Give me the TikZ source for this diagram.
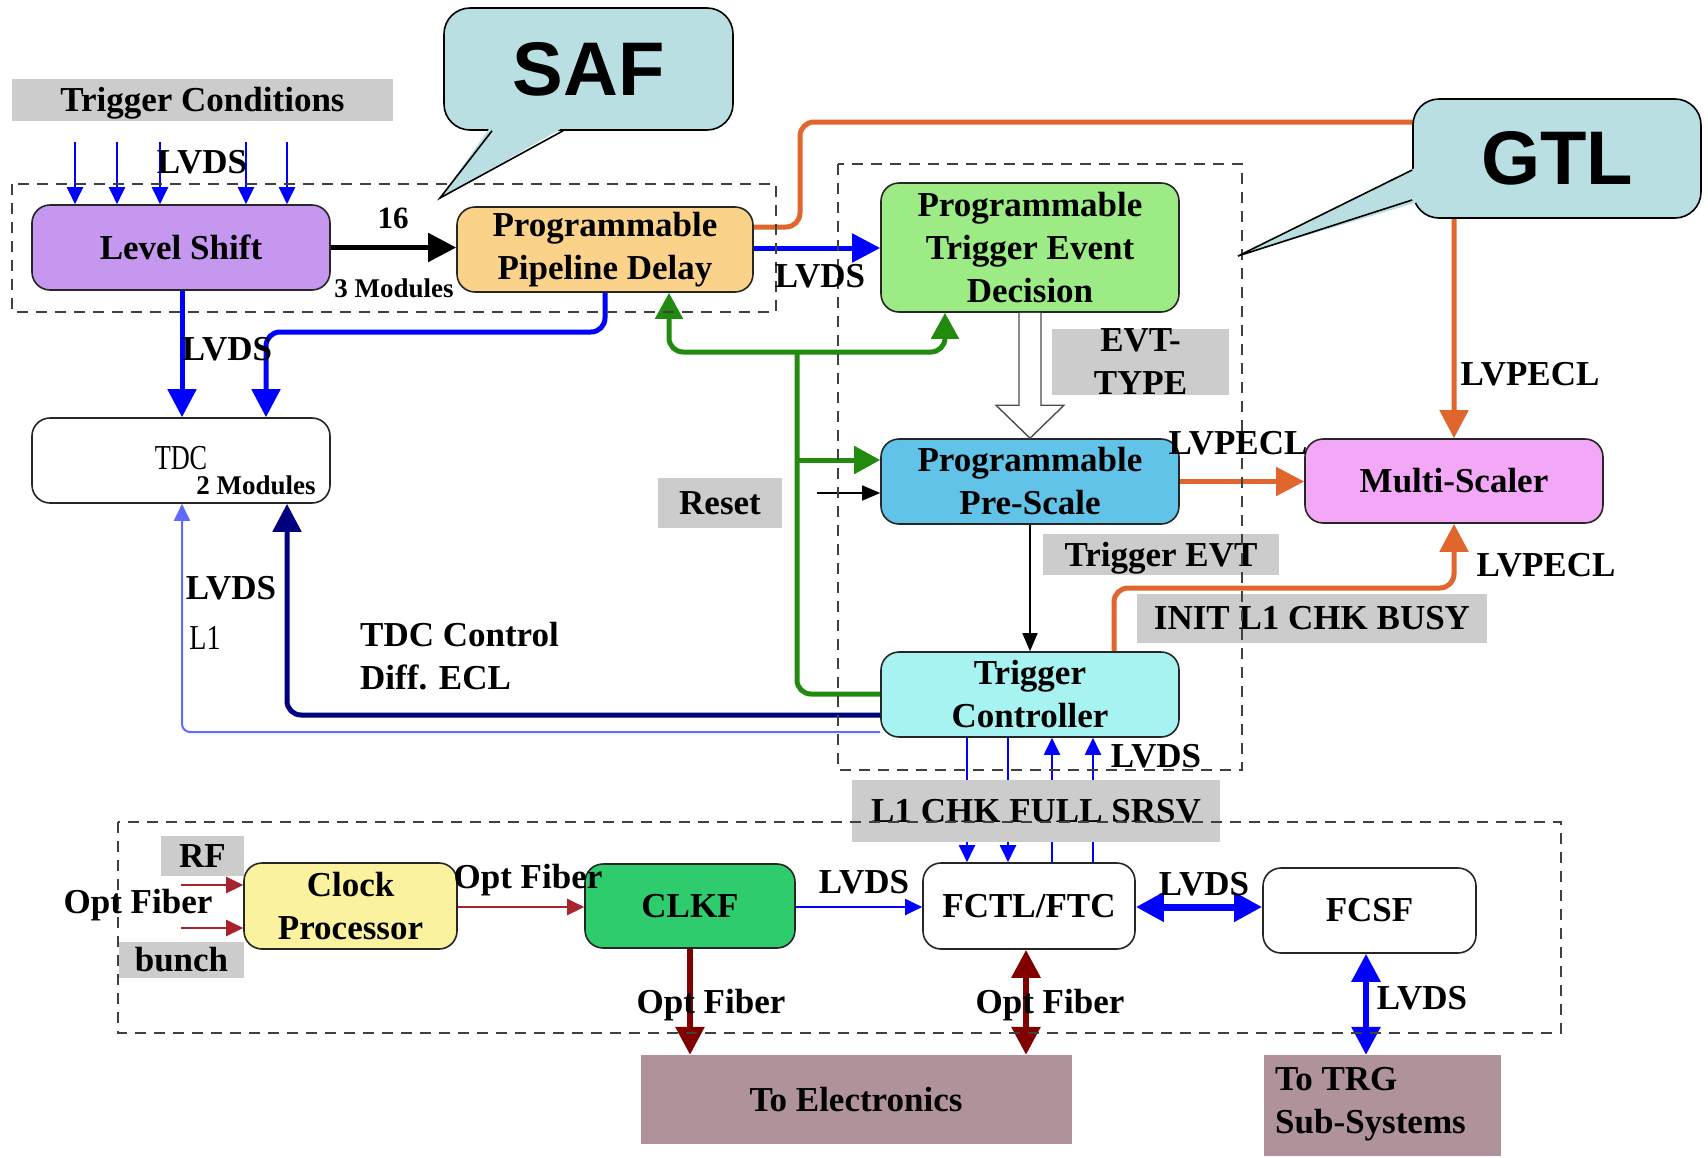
\documentclass[tikz,border=0pt]{standalone}
\usepackage{fontspec}
\setmainfont{Liberation Serif}
\newfontfamily\calloutfont{Liberation Sans}
\usetikzlibrary{arrows.meta}

% fills
\definecolor{lsfill}{HTML}{C597EE}
\definecolor{ppdfill}{HTML}{FAD28A}
\definecolor{ptedfill}{HTML}{9DEB85}
\definecolor{psfill}{HTML}{62C3E8}
\definecolor{msfill}{HTML}{F2A8F6}
\definecolor{tcfill}{HTML}{A7F3F2}
\definecolor{cpfill}{HTML}{FAF29F}
\definecolor{clkffill}{HTML}{2ECC6C}
\definecolor{outfill}{HTML}{B0929B}
\definecolor{tagfill}{HTML}{CCCCCC}
\definecolor{bubble}{HTML}{B9DFE2}
% wires
\definecolor{wireorange}{HTML}{E0662E}
\definecolor{wireblue}{HTML}{0000FF}
\definecolor{wirelight}{HTML}{5F6BFF}
\definecolor{wirenavy}{HTML}{00007F}
\definecolor{wiregreen}{HTML}{238A10}
\definecolor{wirered}{HTML}{800000}
\definecolor{wirebrick}{HTML}{A8232D}

\newcommand\boxfont{\fontsize{35pt}{43pt}\selectfont\bfseries}
\newcommand\smallboldfont{\fontsize{27pt}{30pt}\selectfont\bfseries}
\newcommand\bubblefont{\calloutfont\bfseries\fontsize{76pt}{80pt}\selectfont}

\tikzset{
  blk/.style={draw=black!85, line width=1.6pt, rounded corners=18pt, align=center,
    inner sep=0pt, font=\boxfont},
  graytag/.style={fill=tagfill, inner sep=0pt, font=\boxfont, text height=23pt, text depth=0pt},
  lbl/.style={inner sep=0pt, font=\boxfont, text height=23pt, text depth=0pt},
  dashframe/.style={draw=black!75, line width=1.8pt, dash pattern=on 11pt off 8pt},
  thickwire/.style={line width=5pt},
  thinwire/.style={line width=2pt},
  bigtip/.tip={Triangle[length=28pt,width=28pt]},
  greentip/.tip={Triangle[length=26pt,width=27pt]},
  smalltip/.tip={Triangle[length=17pt,width=16pt]},
  bubblebox/.style={fill=bubble, draw=black, line width=1.6pt, rounded corners=26pt,
    inner sep=0pt, font=\bubblefont},
}

\begin{document}
\begin{tikzpicture}[x=1pt,y=-1pt]
\useasboundingbox (0,0) rectangle (1708,1157);
\fill[white] (0,0) rectangle (1708,1157);

% ---------- blocks ----------
\node[blk, fill=lsfill,   minimum width=298pt, minimum height=85pt]  (LS)   at (181,247.5)  {Level Shift};
\node[blk, fill=ppdfill,  minimum width=296pt, minimum height=85pt]  (PPD)  at (605,249.5)  {Programmable\\Pipeline Delay};
\node[blk, fill=ptedfill, minimum width=298pt, minimum height=129pt] (PTED) at (1030,247.5) {Programmable\\Trigger Event\\Decision};
\node[blk, fill=psfill,   minimum width=298pt, minimum height=85pt]  (PS)   at (1030,481.5) {Programmable\\Pre-Scale};
\node[blk, fill=msfill,   minimum width=298pt, minimum height=84pt]  (MS)   at (1454,481)   {Multi-Scaler};
\node[blk, fill=tcfill,   minimum width=298pt, minimum height=85pt]  (TC)   at (1030,694.5) {Trigger\\Controller};
\node[blk, fill=white,    minimum width=298pt, minimum height=85pt]  (TDC)  at (181,460.5)  {};
\node[blk, fill=cpfill,   minimum width=213pt, minimum height=86pt]  (CP)   at (350.5,906)  {Clock\\Processor};
\node[blk, fill=clkffill, minimum width=210pt, minimum height=84pt]  (CLKF) at (690,906)    {CLKF};
\node[blk, fill=white,    minimum width=212pt, minimum height=86pt]  (FCTL) at (1029,906)   {FCTL/FTC};
\node[blk, fill=white,    minimum width=213pt, minimum height=85pt]  (FCSF) at (1369.5,910.5) {FCSF};
\node[fill=outfill, inner sep=0pt, minimum width=431pt, minimum height=89pt, font=\boxfont] (TE) at (856,1099.5) {To Electronics};
\node[fill=outfill, inner sep=0pt, minimum width=237pt, minimum height=101pt] (TRG) at (1382.5,1105.5) {};

\node[font=\fontsize{35pt}{40pt}\selectfont, inner sep=0pt, text height=23pt, text depth=0pt] (tdct) at (181,458) {\scalebox{0.75}[1]{TDC}};
\node[font=\smallboldfont, inner sep=0pt] (tdcm) at (256,485) {2 Modules};
\node[font=\boxfont, align=left, anchor=west, inner sep=0pt] (trgt) at (1275,1104) {To TRG\\Sub-Systems};

% ---------- connectors ----------
% trigger condition inputs
\foreach \x [count=\i] in {75,117,160,246,287} {
  \coordinate (in\i) at (\x,142);
  \draw[thinwire, wireblue, -{smalltip}] (in\i) -- (LS.north -| in\i);
}
\draw[thickwire, black, -{bigtip}] (LS.east) -- (PPD.west |- LS.east);
\draw[thickwire, wireblue, -{bigtip}] (PPD.east |- 0,248) -- (PTED.west |- 0,248);

% LVPECL wires
\draw[thickwire, wireorange, rounded corners=14pt, -{bigtip}]
  (PPD.east |- 0,227) -- (800,227) -- (800,122) -- (MS.north |- 0,122) -- (MS.north);
\draw[thickwire, wireorange, -{bigtip}] (PS.east) -- (MS.west |- PS.east);
\draw[thickwire, wireorange, rounded corners=14pt, -{bigtip}]
  (TC.north -| 1114,0) -- (1114,588) -- (MS.south |- 0,588) -- (MS.south);

% event decision to pre-scale (hollow arrow)
\draw[draw=black!70, fill=white, line width=1.4pt]
  ([xshift=-11pt]PTED.south) -- ([xshift=-11pt,yshift=33pt]PS.north)
  -- ([xshift=-34pt,yshift=33pt]PS.north) -- (PS.north)
  -- ([xshift=34pt,yshift=33pt]PS.north) -- ([xshift=11pt,yshift=33pt]PS.north)
  -- ([xshift=11pt]PTED.south);
\draw[line width=1.6pt, -{Triangle[length=18pt,width=15pt]}] (PS.south) -- (TC.north);
\coordinate (rstin) at (817,493);
\draw[line width=1.6pt, -{Triangle[length=18pt,width=15pt]}] (rstin) -- (PS.west |- rstin);

% reset distribution
\draw[thickwire, wiregreen, rounded corners=14pt] (TC.west |- 0,694) -- (797,694) -- (797,352);
\draw[thickwire, wiregreen, rounded corners=14pt, {greentip}-{greentip}]
  (PPD.south -| 669,0) -- (669,352) -- (945,352) -- (PTED.south -| 945,0);
\draw[thickwire, wiregreen, -{greentip}] (797,460) -- (PS.west |- 0,460);

% TDC links
\draw[thickwire, wireblue, -{bigtip}] (LS.south -| 182,0) -- (TDC.north -| 182,0);
\draw[thickwire, wireblue, rounded corners=14pt, -{bigtip}]
  (PPD.south) -- (605,332) -- (266,332) -- (TDC.north -| 266,0);
\draw[thickwire, wirenavy, rounded corners=14pt, -{bigtip}]
  (TC.west |- 0,715) -- (287,715) -- (TDC.south -| 287,0);
\draw[thinwire, wirelight, rounded corners=8pt, -{smalltip}]
  (TC.west |- 0,732) -- (182,732) -- (TDC.south -| 182,0);

% controller <-> fast control
\foreach \x in {967,1008}
  \draw[thinwire, wireblue, -{smalltip}] (TC.south -| \x,0) -- (FCTL.north -| \x,0);
\foreach \x in {1052,1093}
  \draw[thinwire, wireblue, -{smalltip}] (FCTL.north -| \x,0) -- (TC.south -| \x,0);

% clock chain
\coordinate (rfin) at (181,885);
\coordinate (bnin) at (181,928);
\draw[line width=2.5pt, wirebrick, -{smalltip}] (rfin) -- (CP.west |- rfin);
\draw[line width=2.5pt, wirebrick, -{smalltip}] (bnin) -- (CP.west |- bnin);
\draw[line width=2.5pt, wirebrick, -{smalltip}] (CP.east |- 0,907) -- (CLKF.west |- 0,907);
\draw[thinwire, wireblue, -{smalltip}] (CLKF.east |- 0,907) -- (FCTL.west |- 0,907);
\draw[line width=7pt, wireblue, {bigtip}-{bigtip}] (FCTL.east |- 0,907) -- (FCSF.west |- 0,907);
\draw[line width=6pt, wirered, -{bigtip}] (CLKF.south) -- (TE.north -| CLKF.south);
\draw[line width=6pt, wirered, {bigtip}-{bigtip}] (FCTL.south -| 1026,0) -- (TE.north -| 1026,0);
\draw[line width=6pt, wireblue, {bigtip}-{bigtip}] (FCSF.south -| 1366,0) -- (TRG.north -| 1366,0);

% ---------- grey tags ----------
\node[graytag, minimum width=381pt, minimum height=42pt] (tcond) at (202.5,100) {Trigger Conditions};
\node[fill=tagfill, inner sep=0pt, font=\boxfont, align=center, minimum width=177pt, minimum height=58pt] (evt) at (1140.5,362) {EVT-\\TYPE};
\node[graytag, minimum width=124pt, minimum height=50pt] (reset) at (720,503) {Reset};
\node[graytag, minimum width=236pt, minimum height=41pt] (tevt) at (1161,554.5) {Trigger EVT};
\node[graytag, minimum width=350pt, minimum height=49pt] (init) at (1312,618) {INIT L1 CHK BUSY};
\node[graytag, minimum width=368pt, minimum height=62pt] (chk) at (1036,811) {L1 CHK FULL SRSV};
\node[graytag, minimum width=83pt, minimum height=40pt] (rf) at (202.5,855.5) {RF};
\node[graytag, minimum width=125pt, minimum height=36pt] (bunch) at (181.5,960) {bunch};

% ---------- dashed groups ----------
\draw[dashframe] (12,184) rectangle (776,312);
\draw[dashframe] (838,164) rectangle (1242,770);
\draw[dashframe] (118,822) rectangle (1561,1033);

% ---------- callouts ----------
\node[bubblebox, minimum width=289pt, minimum height=122pt] (saf) at (588.5,69) {SAF};
\coordinate (saftip) at (440,198);
\fill[bubble] ([xshift=-98pt,yshift=4pt]saf.south) -- (saftip) -- ([xshift=-24pt,yshift=4pt]saf.south) -- cycle;
\draw[line width=1.6pt] ([xshift=-96.5pt]saf.south) -- (saftip) -- ([xshift=-25.5pt]saf.south);

\node[bubblebox, minimum width=288pt, minimum height=119pt] (gtl) at (1557,158.5) {GTL};
\coordinate (gtltip) at (1238,256);
\fill[bubble] ([xshift=4pt,yshift=-9pt]gtl.west) -- (gtltip) -- ([xshift=4pt,yshift=-44pt]gtl.west) -- cycle;
\draw[line width=1.6pt] ([yshift=-11.5pt]gtl.west) -- (gtltip) -- ([yshift=-41.5pt]gtl.west);

% ---------- signal labels ----------
\node[lbl] (l1) at (202,162) {LVDS};
\node[lbl, font=\fontsize{31pt}{34pt}\selectfont\bfseries, text height=20pt] (l2) at (393,218) {16};
\node[font=\smallboldfont, inner sep=0pt, text height=18pt, text depth=0pt] (l3) at (394,288) {3 Modules};
\node[lbl] (l4) at (820,276) {LVDS};
\node[lbl] (l5) at (227,349) {LVDS};
\node[lbl] (l6) at (1530,374) {LVPECL};
\node[lbl] (l7) at (1238,443) {LVPECL};
\node[lbl] (l8) at (1546,565) {LVPECL};
\node[lbl] (l9) at (231,588) {LVDS};
\node[inner sep=0pt, font=\fontsize{35pt}{40pt}\selectfont, text height=23pt, text depth=0pt] (l10) at (205,638) {\scalebox{0.8}[1]{L1}};
\node[lbl, anchor=west] (l11) at (360,635) {TDC Control};
\node[lbl, anchor=west] (l12) at (360,678) {Diff. ECL};
\node[lbl] (l13) at (1156,756) {LVDS};
\node[lbl] (l14) at (138,902) {Opt Fiber};
\node[lbl] (l15) at (528,877) {Opt Fiber};
\node[lbl] (l16) at (864,882) {LVDS};
\node[lbl] (l17) at (1204,884) {LVDS};
\node[lbl] (l18) at (711,1002) {Opt Fiber};
\node[lbl] (l19) at (1050,1002) {Opt Fiber};
\node[lbl] (l20) at (1422,998) {LVDS};
\end{tikzpicture}
\end{document}
